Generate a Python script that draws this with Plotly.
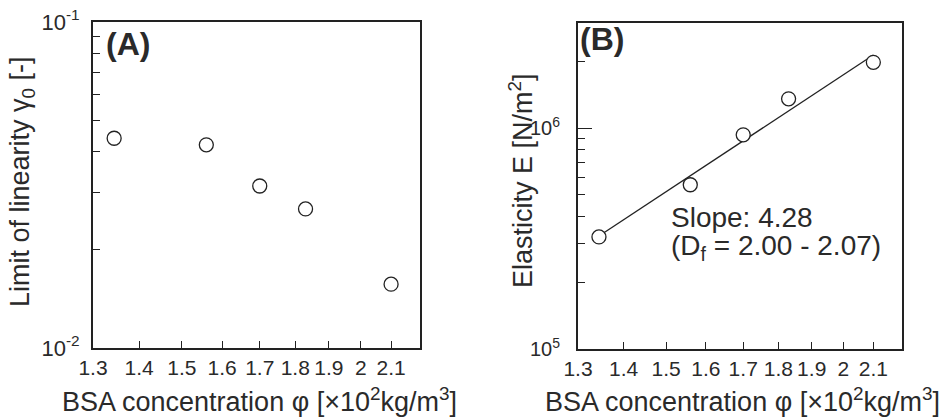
import math
import plotly.graph_objects as go

# ---- data ----
phi_A = [1.345, 1.56, 1.70, 1.83, 2.10]
gamma0 = [0.0440, 0.0420, 0.0314, 0.0267, 0.0157]

phi_B = [1.345, 1.56, 1.70, 1.83, 2.10]
elasticity = [3.22e5, 5.55e5, 9.34e5, 1.36e6, 1.99e6]

fit_phi = [1.35, 2.10]
fit_E = [3.3e5, 2.15e6]

x_tickvals = [1.3, 1.4, 1.5, 1.6, 1.7, 1.8, 1.9, 2.0, 2.1]
x_ticktext = ["1.3", "1.4", "1.5", "1.6", "1.7", "1.8", "1.9", "2", "2.1"]

yA_major = [0.01, 0.1]
yA_major_text = ["10<sup>-2</sup>", "10<sup>-1</sup>"]
yA_minor = [0.02, 0.03, 0.04, 0.05, 0.06, 0.07, 0.08, 0.09]

yB_major = [1e5, 1e6]
yB_major_text = ["10<sup>5</sup>", "10<sup>6</sup>"]
yB_minor = [2e5, 3e5, 4e5, 5e5, 6e5, 7e5, 8e5, 9e5, 2e6]

FONT = "Liberation Sans, Arial, Helvetica, sans-serif"
TXT = "#2a2a2a"
LINE = "#222222"
W, H = 949, 420

fig = go.Figure()

marker = dict(symbol="circle", size=14, color="white",
              line=dict(color=LINE, width=1.3))

fig.add_trace(go.Scatter(x=phi_A, y=gamma0, mode="markers", marker=marker,
                         xaxis="x", yaxis="y", showlegend=False))
fig.add_trace(go.Scatter(x=fit_phi, y=fit_E, mode="lines",
                         line=dict(color=LINE, width=1.3),
                         xaxis="x2", yaxis="y2", showlegend=False))
fig.add_trace(go.Scatter(x=phi_B, y=elasticity, mode="markers", marker=marker,
                         xaxis="x2", yaxis="y2", showlegend=False))


def xaxis(domain, anchor):
    return dict(domain=domain, anchor=anchor, type="log", automargin=False,
                range=[math.log10(1.3), math.log10(2.2)],
                tickmode="array", tickvals=x_tickvals, ticktext=x_ticktext,
                ticks="inside", ticklen=7, tickwidth=1.2, tickcolor=LINE,
                showline=True, mirror=True, linecolor=LINE, linewidth=2,
                showgrid=False, zeroline=False,
                tickfont=dict(family=FONT, size=21, color=TXT))


def yaxis(domain, anchor, rng, vals, text, minor, ticklen, standoff, fsize):
    return dict(domain=domain, anchor=anchor, type="log", range=rng,
                automargin=False,
                tickmode="array", tickvals=vals, ticktext=text,
                ticks="inside", ticklen=ticklen, tickwidth=1.2, tickcolor=LINE,
                ticklabelstandoff=standoff,
                minor=dict(tickmode="array", tickvals=minor, ticks="inside",
                           ticklen=7, tickwidth=1.2, tickcolor=LINE,
                           showgrid=False),
                showline=True, mirror=True, linecolor=LINE, linewidth=2,
                showgrid=False, zeroline=False,
                tickfont=dict(family=FONT, size=fsize, color=TXT))


fig.update_layout(
    width=W, height=H,
    margin=dict(l=0, r=0, t=0, b=0, pad=0, autoexpand=False),
    paper_bgcolor="white", plot_bgcolor="white",
    xaxis=xaxis([93 / W, 420 / W], "y"),
    yaxis=yaxis([1 - 348 / H, 1 - 22 / H], "x", [-2, -1],
                yA_major, yA_major_text, yA_minor, 7, 7, 22),
    xaxis2=xaxis([578 / W, 902 / W], "y2"),
    yaxis2=yaxis([1 - 349 / H, 1 - 23 / H], "x2",
                 [5, math.log10(3e6)],
                 yB_major, yB_major_text, yB_minor, 14, 12, 20),
    font=dict(family=FONT, color=TXT),
)

ann = []


def add(text, x, y, size, xanchor="center", yanchor="middle", angle=0, bold=False):
    ann.append(dict(text=("<b>%s</b>" % text) if bold else text,
                    x=x / W, y=1 - y / H, xref="paper", yref="paper",
                    xanchor=xanchor, yanchor=yanchor, textangle=angle,
                    showarrow=False,
                    font=dict(family=FONT, size=size, color=TXT)))


add("Limit of linearity γ<sub>0</sub> [-]", 22, 182, 27, angle=-90)
add("Elasticity E [N/m<sup>2</sup>]", 521, 181, 27, angle=-90)
add("BSA concentration φ [×10<sup>2</sup>kg/m<sup>3</sup>]", 259, 400, 27)
add("BSA concentration φ [×10<sup>2</sup>kg/m<sup>3</sup>]", 742, 400, 27)
add("(A)", 104, 44, 32, xanchor="left", bold=True)
add("(B)", 578, 39, 32, xanchor="left", bold=True)
add("Slope: 4.28", 669, 217, 28, xanchor="left")
add("(D<sub>f</sub> = 2.00 - 2.07)", 669, 247, 28, xanchor="left")

fig.update_layout(annotations=ann)
fig.write_html(
    "out.html",
    config={"displayModeBar": False},
    post_script="document.body.style.margin='0';document.body.style.overflow='hidden';",
)
